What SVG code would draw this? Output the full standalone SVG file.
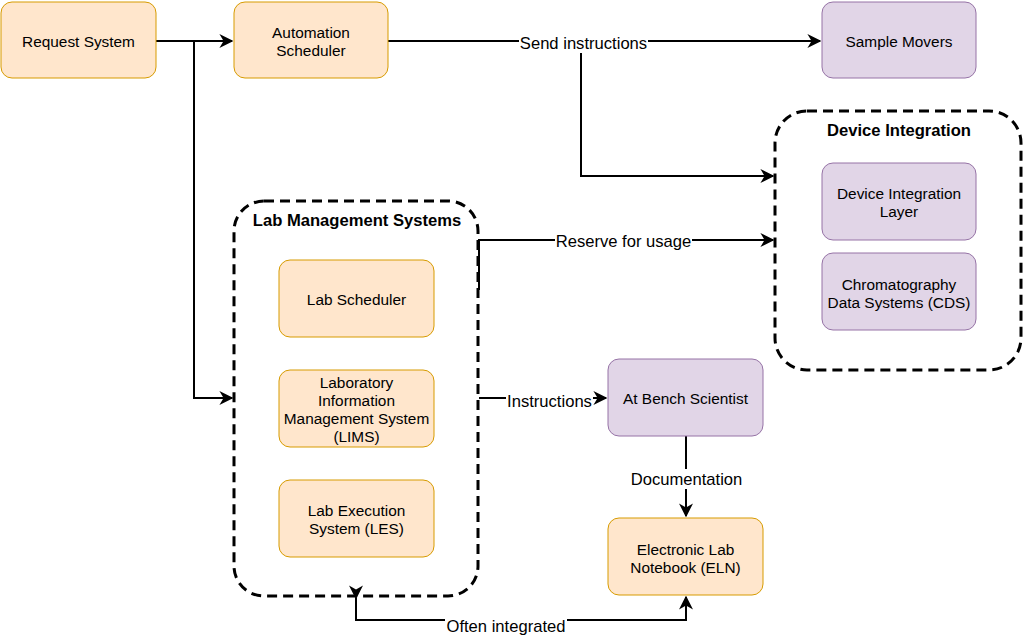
<svg xmlns="http://www.w3.org/2000/svg" width="1024" height="636" viewBox="0 0 1024 636">
<style>
text{font-family:"Liberation Sans",Arial,sans-serif;font-size:15.4px;fill:#000;text-anchor:middle;dominant-baseline:central}
.h{font-weight:bold;font-size:16.6px}
.l{font-size:16.6px}
.o{fill:#ffe6cc;stroke:#d79b00;stroke-width:1}
.p{fill:#e1d5e7;stroke:#9673a6;stroke-width:1}
.c{fill:none;stroke:#000;stroke-width:3;stroke-dasharray:10 6}
.e{fill:none;stroke:#000;stroke-width:2}
.lb{fill:#fff}
</style>
<defs>
<marker id="a" viewBox="0 0 10 10" refX="9" refY="5" markerWidth="7" markerHeight="7" markerUnits="strokeWidth" orient="auto">
<path d="M0,0 L10,5 L0,10 L3,5 Z" fill="#000"/>
</marker>
</defs>
<rect width="1024" height="636" fill="#fff"/>
<g id="lms-container"><rect class="c" x="234" y="201" width="244" height="395" rx="30"/><text class="h" x="357" y="220">Lab Management Systems</text></g>
<g id="di-container"><rect class="c" x="775" y="111" width="246" height="259" rx="32"/><text class="h" x="899" y="130">Device Integration</text></g>
<g id="connectors">
<path class="e" d="M156,41 L232,41" marker-end="url(#a)"/>
<path class="e" d="M194,41 L194,398 L232,398" marker-end="url(#a)"/>
<path class="e" d="M388,41 L820,41" marker-end="url(#a)"/>
<path class="e" d="M581,41 L581,176 L773,176" marker-end="url(#a)"/>
<path class="e" d="M479,290 L479,240 L773,240" marker-end="url(#a)"/>
<path class="e" d="M479,398 L606,398" marker-end="url(#a)"/>
<path class="e" d="M686,436 L686,516" marker-end="url(#a)"/>
<path class="e" d="M356,598 L356,620 L686,620 L686,597" marker-start="url(#a)" marker-end="url(#a)"/>
<rect class="lb" x="519" y="33" width="129" height="20"/><text class="l" x="583.5" y="43">Send instructions</text>
<rect class="lb" x="555" y="231" width="137" height="20"/><text class="l" x="623.5" y="241">Reserve for usage</text>
<rect class="lb" x="506" y="391" width="87" height="20"/><text class="l" x="549.5" y="401">Instructions</text>
<rect class="lb" x="629" y="469" width="115" height="20"/><text class="l" x="686.5" y="479">Documentation</text>
<rect class="lb" x="445" y="616" width="122" height="20"/><text class="l" x="506" y="626">Often integrated</text>
</g>
<g id="request-system"><rect class="o" x="1" y="2" width="155" height="76" rx="11"/><text x="78.5" y="41">Request System</text></g>
<g id="automation-scheduler"><rect class="o" x="234" y="2" width="154" height="76" rx="11"/><text x="311" y="32">Automation</text><text x="311" y="50">Scheduler</text></g>
<g id="sample-movers"><rect class="p" x="822" y="2" width="154" height="76" rx="11"/><text x="899" y="41">Sample Movers</text></g>
<g id="device-integration-layer"><rect class="p" x="822" y="163" width="154" height="77" rx="11"/><text x="899" y="193">Device Integration</text><text x="899" y="211">Layer</text></g>
<g id="cds"><rect class="p" x="822" y="253" width="154" height="77" rx="11"/><text x="899" y="284">Chromatography</text><text x="899" y="302">Data Systems (CDS)</text></g>
<g id="lab-scheduler"><rect class="o" x="279" y="260" width="155" height="77" rx="11"/><text x="356.5" y="299">Lab Scheduler</text></g>
<g id="lims"><rect class="o" x="279" y="370" width="155" height="77" rx="11"/><text x="356.5" y="382">Laboratory</text><text x="356.5" y="400">Information</text><text x="356.5" y="418">Management System</text><text x="356.5" y="436">(LIMS)</text></g>
<g id="les"><rect class="o" x="279" y="480" width="155" height="77" rx="11"/><text x="356.5" y="510">Lab Execution</text><text x="356.5" y="528">System (LES)</text></g>
<g id="at-bench-scientist"><rect class="p" x="608" y="359" width="155" height="77" rx="11"/><text x="685.5" y="398">At Bench Scientist</text></g>
<g id="eln"><rect class="o" x="608" y="518" width="155" height="77" rx="11"/><text x="685.5" y="549">Electronic Lab</text><text x="685.5" y="567">Notebook (ELN)</text></g>
</svg>
